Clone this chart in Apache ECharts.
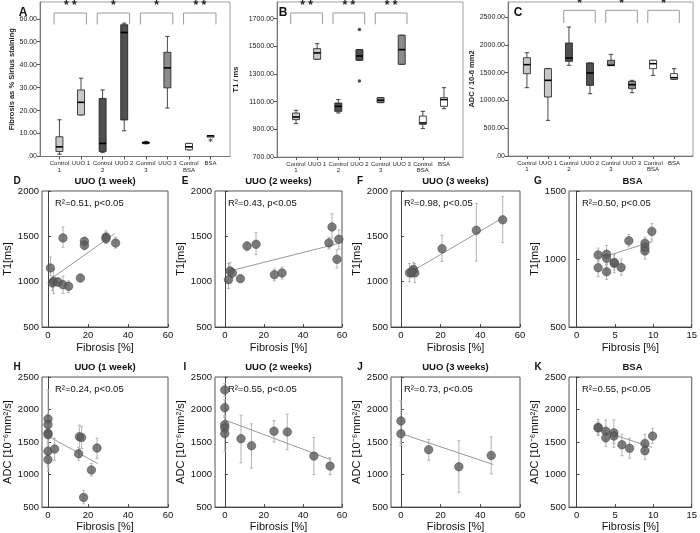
<!DOCTYPE html>
<html><head><meta charset="utf-8">
<script src="https://cdn.jsdelivr.net/npm/echarts@6/dist/echarts.min.js"></script>
<style>html,body{margin:0;padding:0;background:#fff}#c{width:700px;height:533px}</style>
</head><body><div id="c"></div>
<script>
// ---------- DATA ----------
const groupCats = ['Control\n1','UUO 1','Control\n2','UUO 2','Control\n3','UUO 3','Control\nBSA','BSA'];
// box rows: [category(1-8), lowWhisker, Q1, median, Q3, highWhisker]
const fibBoxes = [
  [1, 1.0, 2.2, 4.2, 8.6, 16.0],
  [2, 18.1, 18.1, 23.6, 29.0, 34.1],
  [3, 1.7, 2.2, 5.7, 25.3, 29.0],
  [4, 11.2, 15.9, 54.0, 57.4, 58.1],
  [5, 5.5, 5.8, 6.0, 6.3, 6.6],
  [6, 21.1, 29.9, 38.6, 45.4, 52.3],
  [7, 2.9, 2.9, 4.2, 5.7, 5.7],
  [8, 8.9, 8.9, 9.0, 9.1, 9.1]
];
const fibOutliers = [[8, 7.1]];
const fibSig = [[1, 2], [3, 4], [5, 6], [7, 8]];
const fibSigText = ['* *', '*', '*', '* *'];

const t1Boxes = [
  [1, 941, 970, 989, 1018, 1037],
  [2, 1406, 1406, 1452, 1483, 1519],
  [3, 1018, 1030, 1066, 1090, 1115],
  [4, 1399, 1399, 1430, 1476, 1476],
  [5, 1093, 1093, 1110, 1129, 1129],
  [6, 1370, 1370, 1476, 1580, 1580],
  [7, 905, 936, 946, 996, 1030],
  [8, 1049, 1066, 1115, 1129, 1201]
];
const t1OutliersOpen = [[1, 1146]];
const t1OutliersStar = [[4, 1621], [4, 1249]];
const t1Sig = [[1, 2], [3, 4], [5, 6]];
const t1SigText = ['* *', '* *', '* *'];

const adcBoxes = [
  [1, 1229, 1481, 1643, 1768, 1858],
  [2, 641, 1061, 1361, 1571, 1571],
  [3, 1631, 1703, 1763, 2032, 2320],
  [4, 1121, 1271, 1493, 1673, 1673],
  [5, 1631, 1631, 1631, 1721, 1828],
  [6, 1139, 1211, 1283, 1343, 1361],
  [7, 1451, 1571, 1661, 1721, 1721],
  [8, 1379, 1379, 1409, 1481, 1571]
];
const adcSig = [[3, 4], [5, 6], [7, 8]];
const adcSigText = ['*', '*', '*'];

const fibTicks = [0, 10, 20, 30, 40, 50, 60];
const t1BoxTicks = [700, 900, 1100, 1300, 1500, 1700];
const adcBoxTicks = [0, 500, 1000, 1500, 2000, 2500];

// scatter rows: [fibrosis %, value, errLow, errHigh]
const t1Week1 = [
  [1.2, 1151, 1070, 1272], [7.5, 1482, 1380, 1603], [2.8, 1004, 870, 1140], [2.2, 985, 900, 1060],
  [5.0, 996, 950, 1040], [7.5, 967, 870, 1060], [10.3, 949, 880, 1010], [16.2, 1040, 1000, 1080],
  [18.2, 1445, 1390, 1490], [18.2, 1401, 1350, 1450], [29.0, 1493, 1440, 1560], [29.0, 1474, 1420, 1530],
  [33.8, 1427, 1370, 1490]
];
const t1Week1Fit = [[2.8, 1052], [33.3, 1529]];
const t1Week2 = [
  [1.9, 1022, 923, 1199], [2.7, 1118, 1050, 1210], [3.9, 1096, 1040, 1150], [8.0, 1033, 1000, 1070],
  [11.4, 1393, 1340, 1440], [16.0, 1412, 1300, 1540], [25.4, 1077, 1010, 1140], [29.3, 1096, 1030, 1160],
  [53.3, 1427, 1360, 1490], [54.9, 1603, 1480, 1750], [58.4, 1467, 1360, 1570], [57.4, 1246, 1150, 1350]
];
const t1Week2Fit = [[2.6, 1118], [57.9, 1419]];
const t1Week3 = [
  [4.3, 1097, 1000, 1200], [6.3, 1134, 1060, 1210], [7.0, 1097, 990, 1200], [5.5, 1104, 1040, 1170],
  [20.7, 1364, 1223, 1512], [38.0, 1567, 1227, 1863], [51.3, 1682, 1430, 1937]
];
const t1Week3Fit = [[6.3, 1123], [51.7, 1708]];
const t1Bsa = [
  [2.8, 1030, 980, 1080], [2.8, 936, 870, 990], [3.9, 1035, 970, 1100], [3.9, 1005, 950, 1060],
  [3.9, 906, 850, 960], [4.9, 968, 900, 1040], [4.9, 975, 920, 1030], [5.8, 938, 880, 1000],
  [6.8, 1134, 1090, 1180], [8.9, 1116, 1070, 1160], [8.9, 1084, 1040, 1130], [8.9, 1059, 1000, 1110],
  [9.8, 1203, 1140, 1260]
];
const t1BsaFit = [[3.9, 1022], [9.9, 1129]];
const adcWeek1 = [
  [0, 1855, 1780, 1930], [0, 1767, 1700, 1840], [0, 1637, 1050, 2300], [0, 1612, 1500, 1720],
  [0, 1360, 1250, 1470], [0, 1230, 1120, 1340], [3.3, 1393, 1220, 1560], [15.3, 1319, 1220, 1420],
  [15.7, 1582, 1270, 1760], [16.8, 1570, 1400, 1740], [21.7, 1071, 980, 1170], [24.5, 1408, 1250, 1560],
  [17.8, 649, 550, 760]
];
const adcWeek1Fit = [[0, 1592], [24.8, 1170]];
const adcWeek2 = [
  [0, 2301, 2200, 2400], [0, 2029, 1900, 2150], [0, 1765, 1650, 1880], [0, 1716, 1600, 1830],
  [0, 1631, 1360, 1900], [8.3, 1552, 1180, 1914], [13.7, 1443, 1100, 1780], [25.2, 1666, 1500, 1830],
  [32.0, 1656, 1380, 1930], [45.6, 1284, 1000, 1570], [53.9, 1130, 1000, 1260]
];
const adcWeek2Fit = [[0, 1840], [54.3, 1229]];
const adcWeek3 = [
  [0, 1825, 1493, 2138], [0, 1627, 1450, 1800], [14.0, 1383, 1220, 1540], [29.2, 1120, 723, 1520],
  [45.5, 1294, 1010, 1580]
];
const adcWeek3Fit = [[0, 1631], [46.5, 1155]];
const adcBsa = [
  [2.8, 1726, 1600, 1850], [2.8, 1716, 1620, 1810], [3.8, 1666, 1500, 1840], [3.8, 1567, 1430, 1700],
  [4.85, 1641, 1420, 1840], [4.85, 1592, 1480, 1700], [5.9, 1458, 1290, 1620], [6.9, 1403, 1250, 1560],
  [8.9, 1478, 1350, 1620], [8.9, 1368, 1230, 1500], [9.9, 1592, 1480, 1710]
];
const adcBsaFit = [[2.8, 1691], [9.8, 1418]];

const fibX60 = [0, 20, 40, 60];
const fibX15 = [0, 5, 10, 15];
const t1Ticks = [500, 1000, 1500, 2000];
const t1BsaTicks = [500, 1000, 1500];
const adcTicks = [500, 1000, 1500, 2000, 2500];

// ---------- STYLE / LAYOUT ----------
const FONT = '"Liberation Sans", Arial, sans-serif';
const boxColors = ['#c8c8c8','#c8c8c8','#505050','#505050','#8c8c8c','#8c8c8c','#ffffff','#ffffff'];

const grids = [], xAxes = [], yAxes = [], series = [], graphics = [];

function fmt2(v){ return v === 0 ? '.00' : v.toFixed(2); }
function fmtPlain(v){ return String(v); }

function boxRender(params, api){
  const x = api.value(0);
  const pLo = api.coord([x, api.value(1)]), pQ1 = api.coord([x, api.value(2)]);
  const pMd = api.coord([x, api.value(3)]), pQ3 = api.coord([x, api.value(4)]);
  const pHi = api.coord([x, api.value(5)]);
  const cx = pMd[0], hw = 3.5, cap = 2.2, st = '#1a1a1a';
  const ch = [];
  ch.push({type:'line', shape:{x1:cx,y1:pHi[1],x2:cx,y2:pQ3[1]}, style:{stroke:st,lineWidth:0.8}});
  ch.push({type:'line', shape:{x1:cx,y1:pQ1[1],x2:cx,y2:pLo[1]}, style:{stroke:st,lineWidth:0.8}});
  ch.push({type:'line', shape:{x1:cx-cap,y1:pHi[1],x2:cx+cap,y2:pHi[1]}, style:{stroke:st,lineWidth:0.8}});
  ch.push({type:'line', shape:{x1:cx-cap,y1:pLo[1],x2:cx+cap,y2:pLo[1]}, style:{stroke:st,lineWidth:0.8}});
  ch.push({type:'rect', shape:{x:cx-hw, y:pQ3[1], width:2*hw, height:Math.max(pQ1[1]-pQ3[1],1.5)},
           style:{fill:boxColors[params.dataIndex], stroke:st, lineWidth:0.8}});
  ch.push({type:'line', shape:{x1:cx-hw,y1:pMd[1],x2:cx+hw,y2:pMd[1]}, style:{stroke:'#000',lineWidth:1.6}});
  return {type:'group', children:ch};
}

function bracketRender(labels, yLow, yTop){
  return function(params, api){
    const c1 = api.value(0), c2 = api.value(1);
    const a = api.coord([c1 - 0.25, yLow]), b = api.coord([c1 - 0.25, yTop]);
    const c = api.coord([c2 + 0.25, yTop]), d = api.coord([c2 + 0.25, yLow]);
    return {type:'group', children:[
      {type:'polyline', shape:{points:[a,b,c,d]}, style:{stroke:'#9a9a9a', lineWidth:1, fill:null}},
      {type:'text', x:(b[0]+c[0])/2, y:b[1]-1, style:{text:labels[params.dataIndex], fill:'#222',
        font:'bold 12px ' + FONT, align:'center', verticalAlign:'bottom', textAlign:'center', textVerticalAlign:'bottom'}}
    ]};
  };
}

function addBoxPanel(g, box, ymin, ymax, ticks, yname, nameGap, sig, sigText, sigLow, sigTop, letter, letterX){
  const gi = grids.length;
  grids.push({left:g[0], top:g[1], width:g[2], height:g[3], show:true, borderColor:'#a0a0a0', borderWidth:1, backgroundColor:'#fff'});
  xAxes.push({type:'value', gridIndex:gi, min:0.1, max:8.9, splitLine:{show:false},
    axisLine:{show:true, lineStyle:{color:'#777', width:1}},
    axisTick:{show:true, length:3, customValues:[1,2,3,4,5,6,7,8], lineStyle:{color:'#555'}},
    axisLabel:{customValues:[1,2,3,4,5,6,7,8], formatter:v => groupCats[Math.round(v)-1] || '',
      hideOverlap:false, showMinLabel:true, showMaxLabel:true,
      fontSize:6, lineHeight:6.5, margin:4, color:'#222', fontFamily:FONT}});
  yAxes.push({type:'value', gridIndex:gi, min:ymin, max:ymax, splitLine:{show:false},
    axisLine:{show:true, lineStyle:{color:'#777', width:1}},
    axisTick:{show:true, length:3, customValues:ticks, lineStyle:{color:'#555'}},
    axisLabel:{customValues:ticks, formatter:fmt2, hideOverlap:false, fontSize:7, margin:3, color:'#222', fontFamily:FONT},
    name:yname, nameLocation:'middle', nameGap:nameGap, nameTextStyle:{fontSize:7.5, fontWeight:'bold', color:'#222', fontFamily:FONT}});
  series.push({type:'custom', xAxisIndex:gi, yAxisIndex:gi, renderItem:boxRender, data:box, z:3, encode:{x:0, y:3}});
  series.push({type:'custom', xAxisIndex:gi, yAxisIndex:gi, renderItem:bracketRender(sigText, sigLow, sigTop), data:sig, z:3, encode:{x:[0,1]}});
  graphics.push({type:'text', x:letterX, y:13, style:{text:letter, font:'bold 12px ' + FONT, fill:'#111', align:'center', verticalAlign:'middle', textAlign:'center', textVerticalAlign:'middle'}});
  return gi;
}

const gA = addBoxPanel([40, 2, 190, 154.5], fibBoxes, 0, 67.3, fibTicks, 'Fibrosis as % Sirius staining', 23, fibSig, fibSigText, 57.5, 62.5, 'A', 23);
series.push({type:'scatter', xAxisIndex:gA, yAxisIndex:gA, data:fibOutliers, symbol:'path://M0,-5L0,5M-4.3,-2.5L4.3,2.5M-4.3,2.5L4.3,-2.5', symbolSize:4,
  itemStyle:{color:'none', borderColor:'#222', borderWidth:0.8}, z:4});
const gB = addBoxPanel([277, 2, 186, 155], t1Boxes, 700, 1820, t1BoxTicks, 'T1 / ms', 37, t1Sig, t1SigText, 1659, 1741, 'B', 283);
series.push({type:'scatter', xAxisIndex:gB, yAxisIndex:gB, data:t1OutliersOpen, symbol:'emptyCircle', symbolSize:4,
  itemStyle:{color:'#fff', borderColor:'#333', borderWidth:0.8}, z:4});
series.push({type:'scatter', xAxisIndex:gB, yAxisIndex:gB, data:t1OutliersStar, symbol:'circle', symbolSize:3.5,
  itemStyle:{color:'#222'}, z:4});
addBoxPanel([508, 2, 185, 154], adcBoxes, 0, 2770, adcBoxTicks, 'ADC / 10-6 mm2', 31, adcSig, adcSigText, 2392, 2620, 'C', 518);

function errRender(params, api){
  const x = api.value(0);
  const lo = api.coord([x, api.value(2)]), hi = api.coord([x, api.value(3)]);
  const st = {stroke:'#b4b4b4', lineWidth:1};
  return {type:'group', children:[
    {type:'line', shape:{x1:lo[0],y1:lo[1],x2:hi[0],y2:hi[1]}, style:st},
    {type:'line', shape:{x1:lo[0]-1.5,y1:lo[1],x2:lo[0]+1.5,y2:lo[1]}, style:st},
    {type:'line', shape:{x1:hi[0]-1.5,y1:hi[1],x2:hi[0]+1.5,y2:hi[1]}, style:st}
  ]};
}

function addScatterPanel(p){
  const gi = grids.length;
  const g = p.grid;
  grids.push({left:g[0], top:g[1], width:g[2], height:g[3], show:true, borderColor:'#555', borderWidth:1, backgroundColor:'#fff'});
  xAxes.push({type:'value', gridIndex:gi, min:p.xmin, max:p.xmax, splitLine:{show:false},
    axisLine:{show:true, lineStyle:{color:'#444', width:1}},
    axisTick:{show:true, inside:true, length:3, customValues:p.xticks, lineStyle:{color:'#444'}},
    axisLabel:{customValues:p.xticks, formatter:fmtPlain, hideOverlap:false, fontSize:9.5, margin:3, color:'#111', fontFamily:FONT},
    name:'Fibrosis [%]', nameLocation:'middle', nameGap:p.xGap, nameTextStyle:{fontSize:11, color:'#111', fontFamily:FONT}});
  yAxes.push({type:'value', gridIndex:gi, min:p.ymin, max:p.ymax, splitLine:{show:false},
    axisLine:{show:true, lineStyle:{color:'#444', width:1}},
    axisTick:{show:true, inside:true, length:3, customValues:p.yticks, lineStyle:{color:'#444'}},
    axisLabel:{customValues:p.yticks, formatter:fmtPlain, hideOverlap:false, fontSize:9.5, margin:3, color:'#111', fontFamily:FONT},
    name:p.yname, nameLocation:'middle', nameGap:25, nameTextStyle:{fontSize:11, color:'#111', fontFamily:FONT}});
  series.push({type:'custom', xAxisIndex:gi, yAxisIndex:gi, renderItem:errRender, data:p.pts, encode:{x:0, y:1}, z:2});
  series.push({type:'line', xAxisIndex:gi, yAxisIndex:gi, data:p.fit, showSymbol:false, symbol:'none',
    lineStyle:{color:'#999', width:1}, z:3, silent:true});
  series.push({type:'scatter', xAxisIndex:gi, yAxisIndex:gi, data:p.pts.map(r => [r[0], r[1]]), symbol:'circle', symbolSize:8.5,
    itemStyle:{color:'#5c5c5c', borderColor:'#3a3a3a', borderWidth:0.6}, z:4});
  const cx = g[0] + g[2] / 2;
  graphics.push({type:'text', x:cx, y:g[1] - 10, style:{text:p.title, font:'bold 9.5px ' + FONT, fill:'#111', align:'center', verticalAlign:'middle', textAlign:'center', textVerticalAlign:'middle'}});
  graphics.push({type:'text', x:p.letterX, y:g[1] - 10, style:{text:p.letter, font:'bold 10px ' + FONT, fill:'#111', align:'center', verticalAlign:'middle', textAlign:'center', textVerticalAlign:'middle'}});
  graphics.push({type:'text', x:g[0] + 13, y:g[1] + 12, style:{text:p.r2, font:'9.5px ' + FONT, fill:'#111', align:'left', verticalAlign:'middle', textAlign:'left', textVerticalAlign:'middle'}});
}

const ADCNAME = 'ADC [10\u207B\u2076mm\u00B2/s]';
const panels = [
  {letter:'D', letterX:17, title:'UUO (1 week)', r2:'R\u00B2=0.51, p<0.05', pts:t1Week1, fit:t1Week1Fit, grid:[42,191,126,136], xmin:-3, xmax:60, xticks:fibX60, ymin:500, ymax:2000, yticks:t1Ticks, yname:'T1[ms]', xGap:15},
  {letter:'E', letterX:185, title:'UUO (2 weeks)', r2:'R\u00B2=0.43, p<0.05', pts:t1Week2, fit:t1Week2Fit, grid:[215,191,127,136], xmin:-5, xmax:60, xticks:fibX60, ymin:500, ymax:2000, yticks:t1Ticks, yname:'T1[ms]', xGap:15},
  {letter:'F', letterX:360, title:'UUO (3 weeks)', r2:'R\u00B2=0.98, p<0.05', pts:t1Week3, fit:t1Week3Fit, grid:[391,191,129,136], xmin:-5, xmax:60, xticks:fibX60, ymin:500, ymax:2000, yticks:t1Ticks, yname:'T1[ms]', xGap:15},
  {letter:'G', letterX:538, title:'BSA', r2:'R\u00B2=0.50, p<0.05', pts:t1Bsa, fit:t1BsaFit, grid:[569,191,127,136], xmin:-1, xmax:15, xticks:fibX15, ymin:500, ymax:1500, yticks:t1BsaTicks, yname:'T1[ms]', xGap:15},
  {letter:'H', letterX:17, title:'UUO (1 week)', r2:'R\u00B2=0.24, p<0.05', pts:adcWeek1, fit:adcWeek1Fit, grid:[42,377,126,135.5], xmin:-3, xmax:60, xticks:fibX60, ymin:500, ymax:2500, yticks:adcTicks, yname:ADCNAME, xGap:13},
  {letter:'I', letterX:185, title:'UUO (2 weeks)', r2:'R\u00B2=0.55, p<0.05', pts:adcWeek2, fit:adcWeek2Fit, grid:[215,377,127,135.5], xmin:-5, xmax:60, xticks:fibX60, ymin:500, ymax:2500, yticks:adcTicks, yname:ADCNAME, xGap:13},
  {letter:'J', letterX:360, title:'UUO (3 weeks)', r2:'R\u00B2=0.73, p<0.05', pts:adcWeek3, fit:adcWeek3Fit, grid:[391,377,129,135.5], xmin:-5, xmax:60, xticks:fibX60, ymin:500, ymax:2500, yticks:adcTicks, yname:ADCNAME, xGap:13},
  {letter:'K', letterX:538, title:'BSA', r2:'R\u00B2=0.55, p<0.05', pts:adcBsa, fit:adcBsaFit, grid:[569,377,127,135.5], xmin:-1, xmax:15, xticks:fibX15, ymin:500, ymax:2500, yticks:adcTicks, yname:ADCNAME, xGap:13}
];
panels.forEach(addScatterPanel);

const chart = echarts.init(document.getElementById('c'), null, {renderer:'canvas'});
chart.setOption({
  animation:false,
  backgroundColor:'#fff',
  textStyle:{fontFamily:FONT},
  grid:grids, xAxis:xAxes, yAxis:yAxes, series:series, graphic:graphics
});
</script></body></html>
